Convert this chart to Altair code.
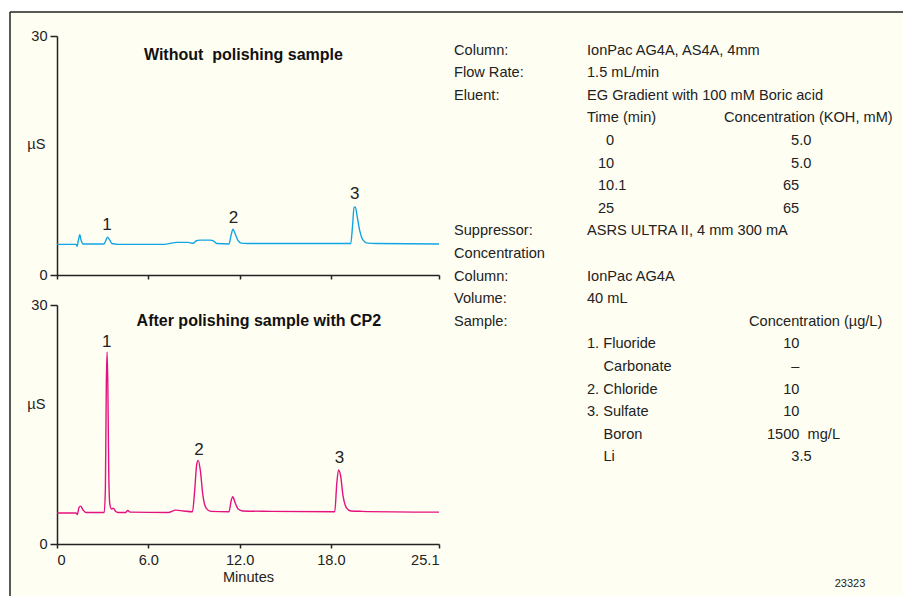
import altair as alt
import pandas as pd

# ---------------- data ----------------
TIME_TOP = [0.0, 1.25, 1.32, 1.40, 1.50, 1.58, 1.72, 3.10, 3.20, 3.32, 3.45, 3.60, 4.00,
            7.00, 7.90, 8.60, 8.95, 9.15, 9.40, 10.05, 10.30, 10.50, 11.30, 11.45,
            11.56, 11.70, 11.90, 12.10, 12.50, 19.30, 19.42, 19.52, 19.60, 19.72,
            19.90, 20.10, 20.40, 21.00, 25.10]
SIGNAL_TOP = [3.85, 3.85, 3.60, 4.30, 5.05, 4.40, 3.90, 3.90, 4.30, 4.75, 4.45, 3.95, 3.85,
              3.85, 4.10, 4.10, 3.98, 4.30, 4.38, 4.38, 4.25, 3.95, 3.90, 5.10,
              5.75, 5.20, 4.30, 4.00, 3.95, 3.95, 6.20, 8.50, 8.55, 7.40,
              5.50, 4.40, 4.00, 3.95, 3.90]

TIME_BOT = [0.0, 1.25, 1.33, 1.45, 1.55, 1.70, 1.90, 3.10, 3.18, 3.24, 3.29, 3.34, 3.40,
            3.47, 3.58, 3.70, 3.85, 4.00, 4.50, 4.65, 4.80, 7.30, 7.80, 8.30, 8.90,
            9.05, 9.18, 9.28, 9.42, 9.58, 9.80, 10.10, 11.30, 11.45, 11.55, 11.70,
            11.90, 12.20, 14.00, 18.25, 18.38, 18.50, 18.63, 18.80, 19.00, 19.30,
            20.00, 25.10]
SIGNAL_BOT = [3.90, 3.90, 3.70, 4.60, 4.75, 4.30, 3.95, 3.95, 7.00, 20.0, 24.1, 20.0, 9.00,
              5.00, 4.40, 4.50, 4.10, 3.95, 3.95, 4.20, 4.00, 3.95, 4.25, 4.15, 4.05,
              6.80, 10.0, 10.5, 9.20, 6.20, 4.50, 4.10, 4.05, 5.50, 5.95, 5.20,
              4.40, 4.15, 4.10, 4.05, 7.50, 9.30, 8.60, 6.00, 4.60, 4.15,
              4.10, 4.00]

PEAK_LABELS = ["1", "2", "3"]
PEAK_TOP_T = [3.28, 11.60, 19.56]
PEAK_TOP_V = [6.3, 7.15, 10.2]
PEAK_BOT_T = [3.26, 9.33, 18.56]
PEAK_BOT_V = [25.4, 11.8, 10.76]

TITLE_TOP = "Without\u00a0 polishing sample"
TITLE_TOP_T, TITLE_TOP_V = 12.25, 27.6
TITLE_BOT = "After polishing sample with CP2"
TITLE_BOT_T, TITLE_BOT_V = 13.26, 28.0

X_TICKS = [0, 6, 12, 18, 25.1]
Y_TICKS = [0, 30]
X_TITLE = "Minutes"
Y_TITLE = "\u00b5S"

Z = "\u200b"      # keeps leading no-break spaces from being trimmed
S = "\u00a0"
INFO_LABELS = ["Column:", "Flow Rate:", "Eluent:", "Suppressor:", "Concentration",
               "Column:", "Volume:", "Sample:"]
INFO_LABEL_ROWS = [0, 1, 2, 8, 9, 10, 11, 12]
INFO_VALUES = ["IonPac AG4A, AS4A, 4mm", "1.5 mL/min", "EG Gradient with 100 mM Boric acid",
               "Time (min)", "ASRS ULTRA II, 4 mm 300 mA", "IonPac AG4A", "40 mL",
               "1. Fluoride", "2. Chloride", "3. Sulfate"]
INFO_VALUE_ROWS = [0, 1, 2, 3, 8, 10, 11, 13, 15, 16]
ANALYTES_INDENT = ["Carbonate", "Boron", "Li"]
ANALYTES_INDENT_ROWS = [14, 17, 18]
GRAD_HEADER = ["Concentration (KOH, mM)"]
GRAD_HEADER_ROWS = [3]
GRAD_TIMES = [Z + S * 2 + "0", "10", "10.1", "25"]
GRAD_CONC = [Z + S * 2 + "5.0", Z + S * 2 + "5.0", "65", "65"]
GRAD_ROWS = [4, 5, 6, 7]
SAMPLE_HEADER = ["Concentration (\u00b5g/L)"]
SAMPLE_HEADER_ROWS = [12]
SAMPLE_CONC = [Z + S * 4 + "10", Z + S * 6 + "\u2013", Z + S * 4 + "10", Z + S * 4 + "10",
               "1500" + S + " mg/L", Z + S * 6 + "3.5"]
SAMPLE_CONC_ROWS = [13, 14, 15, 16, 17, 18]
FIG_ID = "23323"

# ---------------- style / layout ----------------
FONT = "Liberation Sans, Arial, Helvetica, sans-serif"
INK = "#222222"
CREAM = "#FFFEF3"
CYAN = "#12A5E3"
MAGENTA = "#E4127F"
W, H = 893, 584
XR = [47, 429]
TOP_YR = [263, 24]
BOT_YR = [532, 293]
ROW_RANGE = [38.7, 445.3]
FS = 14.6


def panel(times, signal, color, pk_t, pk_v, title, title_t, title_v, y_range, bottom, title_y):
    line_df = pd.DataFrame({"t": times, "v": signal})
    peak_df = pd.DataFrame({"t": pk_t, "v": pk_v, "label": PEAK_LABELS})
    title_df = pd.DataFrame({"t": [title_t], "v": [title_v], "label": [title]})

    xaxis_kw = dict(orient="bottom", offset=y_range[0] - H, values=X_TICKS, grid=False,
                    domainColor=INK, domainWidth=1.5, tickColor=INK, tickWidth=1.5,
                    tickSize=4, labels=bottom)
    if bottom:
        xaxis_kw.update(title=X_TITLE,
                        labelExpr="datum.value == 0 ? '0' : format(datum.value, '.1f')",
                        labelFont=FONT, labelFontSize=FS, labelColor=INK, labelPadding=4,
                        titleFont=FONT, titleFontSize=FS, titleFontWeight="normal",
                        titleColor=INK, titlePadding=3)
    else:
        xaxis_kw.update(title="")

    x = alt.X("t:Q", scale=alt.Scale(domain=[0, 25.1], range=XR, nice=False, zero=False),
              axis=alt.Axis(**xaxis_kw))
    y = alt.Y("v:Q", scale=alt.Scale(domain=[0, 30], range=y_range, nice=False),
              axis=alt.Axis(orient="left", offset=-XR[0], values=Y_TICKS, format="d",
                            grid=False, domainColor=INK, domainWidth=1.5, tickColor=INK,
                            tickWidth=1.5, tickSize=7, labelPadding=3, labelFont=FONT,
                            labelFontSize=FS, labelColor=INK, title=Y_TITLE, titleAngle=0,
                            titleAlign="right", titleBaseline="middle", titleX=-12,
                            titleY=title_y, titleFont=FONT, titleFontSize=FS,
                            titleFontWeight="normal", titleColor=INK))

    line = alt.Chart(line_df).mark_line(color=color, strokeWidth=1.4,
                                        interpolate="monotone").encode(x=x, y=y)
    peaks = alt.Chart(peak_df).mark_text(font=FONT, fontSize=17, color=INK,
                                         baseline="middle").encode(x=x, y=y, text="label:N")
    ttl = alt.Chart(title_df).mark_text(font=FONT, fontSize=16, fontWeight="bold",
                                        color="#111111", baseline="middle").encode(
        x=x, y=y, text="label:N")
    return alt.layer(line, peaks, ttl)


def text_block(texts, rows, x_px):
    df = pd.DataFrame({"row": rows, "text": texts})
    return alt.Chart(df).mark_text(align="left", baseline="middle", font=FONT,
                                   fontSize=FS, color=INK).encode(
        x=alt.value(x_px),
        y=alt.Y("row:Q", scale=alt.Scale(domain=[0, 18], range=ROW_RANGE), axis=None),
        text="text:N")


top = panel(TIME_TOP, SIGNAL_TOP, CYAN, PEAK_TOP_T, PEAK_TOP_V, TITLE_TOP,
            TITLE_TOP_T, TITLE_TOP_V, TOP_YR, False, 132)
bot = panel(TIME_BOT, SIGNAL_BOT, MAGENTA, PEAK_BOT_T, PEAK_BOT_V, TITLE_BOT,
            TITLE_BOT_T, TITLE_BOT_V, BOT_YR, True, 392)

info = [
    text_block(INFO_LABELS, INFO_LABEL_ROWS, 444),
    text_block(INFO_VALUES, INFO_VALUE_ROWS, 577),
    text_block(ANALYTES_INDENT, ANALYTES_INDENT_ROWS, 593.5),
    text_block(GRAD_HEADER, GRAD_HEADER_ROWS, 714),
    text_block(GRAD_TIMES, GRAD_ROWS, 588),
    text_block(GRAD_CONC, GRAD_ROWS, 773),
    text_block(SAMPLE_HEADER, SAMPLE_HEADER_ROWS, 739),
    text_block(SAMPLE_CONC, SAMPLE_CONC_ROWS, 757),
]

one = pd.DataFrame({"id": [FIG_ID]})
fig_id = alt.Chart(one).mark_text(font=FONT, fontSize=11, color=INK, baseline="middle").encode(
    x=alt.value(840), y=alt.value(572), text="id:N")
border_left = alt.Chart(one).mark_rule(color=INK, strokeWidth=1.5).encode(
    x=alt.value(0), y=alt.value(0), y2=alt.value(H))
border_top = alt.Chart(one).mark_rule(color=INK, strokeWidth=1.5).encode(
    x=alt.value(0), x2=alt.value(W), y=alt.value(0))

chart = alt.layer(top, bot, *info, fig_id, border_left, border_top).resolve_scale(
    x="independent", y="independent"
).properties(
    width=W, height=H, background="white",
    padding={"left": 2, "top": 4, "right": 0, "bottom": 0},
    autosize=alt.AutoSizeParams(type="none")
).configure_view(strokeWidth=0, fill=CREAM)

chart.save("out.html", embed_options={"renderer": "svg", "actions": False})
